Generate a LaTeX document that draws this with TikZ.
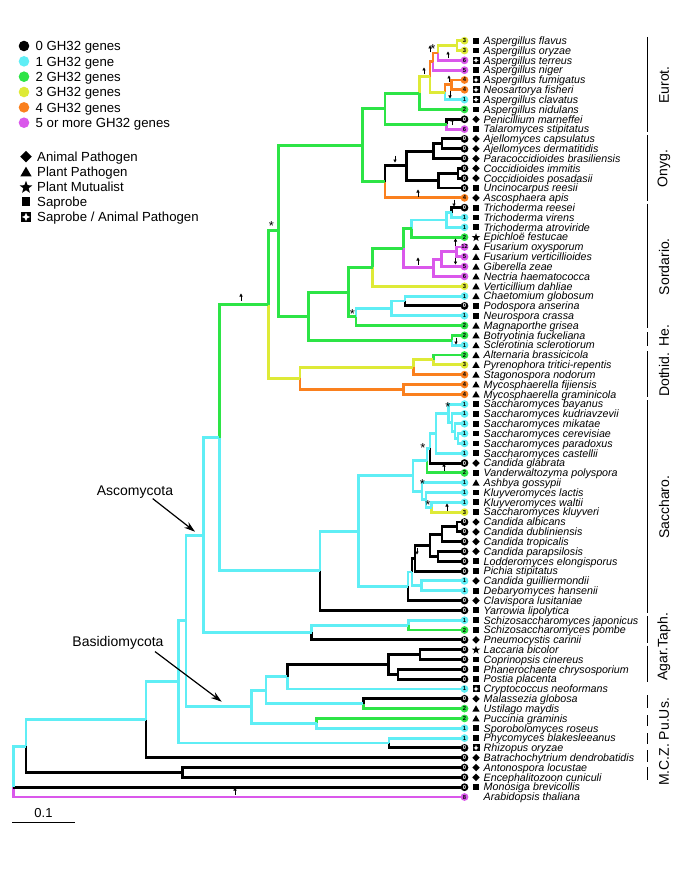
\documentclass[tikz,border=0pt]{standalone}
\usepackage{fontspec}
\setmainfont{Liberation Sans}
\usetikzlibrary{arrows.meta,shapes.geometric}

\definecolor{gh0}{RGB}{0,0,0}
\definecolor{gh1}{RGB}{95,238,245}
\definecolor{gh2}{RGB}{45,228,70}
\definecolor{gh3}{RGB}{222,234,55}
\definecolor{gh4}{RGB}{250,128,30}
\definecolor{gh5}{RGB}{218,88,235}
\definecolor{ghtxt0}{RGB}{255,255,255}
\colorlet{ghtxt1}{black}
\colorlet{ghtxt2}{black}
\colorlet{ghtxt3}{black}
\colorlet{ghtxt4}{black}
\colorlet{ghtxt5}{black}

\tikzset{
	sym/.style={fill=black,inner sep=0pt},
	pics/symsq/.style={code={\node[sym,rectangle,minimum size=5.8pt]{};}},
	pics/symdia/.style={code={\node[sym,diamond,minimum size=7.6pt]{};}},
	pics/symtri/.style={code={\node[sym,regular polygon,regular polygon sides=3,minimum size=8.4pt,yshift=-0.9pt]{};}},
	pics/symstar/.style={code={\node[sym,star,star points=5,star point ratio=2.4,minimum size=8.6pt,yshift=-0.4pt]{};}},
	pics/symsa/.style={code={\node[sym,rectangle,minimum size=7pt]{};
			\node[star,star points=4,star point ratio=2.4,fill=white,inner sep=0pt,minimum size=5.4pt]{};}},
	pics/symnone/.style={code={}}
}

\begin{document}
\begin{tikzpicture}[
			x=1pt,y=-1pt,
			br/.style={line width=2.9pt},
			cnt/.style={
				circle,
				inner sep=0pt,
				minimum size=7.8pt,
				fill=gh#1,
				text=ghtxt#1,
				font=\fontsize{5.8}{5.8}\selectfont\bfseries
			},
			taxon/.style={anchor=base west,inner sep=0pt,yshift=-3.8pt,font=\fontsize{10.7}{11}\selectfont\itshape},
			legtext/.style={anchor=base west,inner sep=0pt,yshift=-4.7pt,font=\fontsize{13.2}{14}\selectfont},
			grp/.style={rotate=90,inner sep=0pt,font=\fontsize{14}{15}\selectfont},
			grpline/.style={line width=1.2pt},
			clade/.style={anchor=base,inner sep=0pt,font=\fontsize{14}{15}\selectfont},
			ptr/.style={-{Stealth[length=11pt,width=7pt]},line width=1.2pt},
			gain/.style={-{Triangle[length=3pt,width=3.2pt]},line width=0.6pt},
			ast/.style={inner sep=0pt,yshift=-3pt,font=\fontsize{13}{13}\selectfont}
			]
			
			\useasboundingbox (0,0) rectangle (685,872);
			
			% legend
			\foreach \k/\t [count=\i] in {0/0 GH32 genes,1/1 GH32 gene,2/2 GH32 genes,
				3/3 GH32 genes,4/4 GH32 genes,5/5 or more GH32 genes}{
				\fill[gh\k] (24,{46+15.34*(\i-1)}) circle[radius=5.3pt];
				\node[legtext] at (35.5,{46+15.34*(\i-1)}) {\t};
			}
			\foreach \sy/\t [count=\i] in {dia/Animal Pathogen,tri/Plant Pathogen,
				star/Plant Mutualist,sq/Saprobe,sa/{Saprobe / Animal Pathogen}}{
				\pic[transform shape,scale=1.55] at (26,{156.7+15.07*(\i-1)}) {sym\sy};
				\node[legtext] at (37,{156.7+15.07*(\i-1)}) {\t};
			}
			
			\begin{scope}[y=-9.822pt,yshift=-30.878pt]
				
				% Eurotiomycetes
				\coordinate (fo) at (457,1.5);
				\coordinate (fot) at (438,2.25);
				\coordinate (ftn) at (433,3.125);
				\coordinate (ff) at (451.7,5.5);
				\coordinate (fcl) at (445,6.25);
				\coordinate (asp2) at (430,4.6875);
				\coordinate (asp) at (419.3,6.344);
				\coordinate (ptal) at (446.7,9.5);
				\coordinate (eur) at (385,7.922);
				\coordinate (aj) at (442,11.5);
				\coordinate (ajp) at (433.3,12.25);
				\coordinate (cc) at (458,14.5);
				\coordinate (ccu) at (438.3,15.25);
				\coordinate (ony) at (406.7,13.75);
				\coordinate (onyg) at (385,15.375);
				\coordinate (eo) at (362.7,11.648);
				
				% Sordariomycetes, Leotiomycetes, Dothideomycetes
				\coordinate (rv) at (451.5,18.5);
				\coordinate (rva) at (446.5,19.25);
				\coordinate (te) at (411.7,20.125);
				\coordinate (ov) at (456.7,22.5);
				\coordinate (ovz) at (441.7,23.25);
				\coordinate (fus) at (433.3,24.125);
				\coordinate (hyp) at (403.3,22.125);
				\coordinate (hv) at (372.7,24.063);
				\coordinate (chp) at (405,27.5);
				\coordinate (sord) at (391.7,28.25);
				\coordinate (sm) at (356,29.125);
				\coordinate (hs) at (348.3,26.594);
				\coordinate (leo) at (452,31.5);
				\coordinate (sl) at (308.3,29.047);
				\coordinate (es) at (278.3,20.348);
				\coordinate (ap) at (433.3,33.5);
				\coordinate (pleo) at (413.3,34.25);
				\coordinate (myc) at (403.3,36.5);
				\coordinate (doth) at (300,35.375);
				\coordinate (pez) at (268.3,27.861);
				
				% Saccharomycotina, Taphrinomycotina
				\coordinate (cp) at (458,41.5);
				\coordinate (mcp) at (455,40.75);
				\coordinate (kmcp) at (452,39.875);
				\coordinate (bk) at (448.5,38.938);
				\coordinate (sc) at (436,40.969);
				\coordinate (gl) at (430,42.484);
				\coordinate (vp) at (427,43.742);
				\coordinate (wk) at (431.7,48.5);
				\coordinate (lwk) at (426,47.75);
				\coordinate (alwk) at (422,46.875);
				\coordinate (sacc) at (413,45.309);
				\coordinate (ad) at (457,50.5);
				\coordinate (adt) at (442,51.25);
				\coordinate (pl) at (438,53.5);
				\coordinate (cand) at (430,52.375);
				\coordinate (candp) at (415,53.688);
				\coordinate (gd) at (421.7,56.5);
				\coordinate (cpg) at (412,55.094);
				\coordinate (ctg) at (408,56.547);
				\coordinate (sac2) at (358.3,50.928);
				\coordinate (sy) at (320,54.964);
				\coordinate (ascu) at (219.3,41.413);
				\coordinate (schizo) at (408.3,60.5);
				\coordinate (taph) at (311.7,61.25);
				\coordinate (asco) at (203.3,51.331);
				
				% Basidiomycota and basal lineages
				\coordinate (lc) at (420,63.5);
				\coordinate (pp) at (398,65.5);
				\coordinate (agpo) at (388.3,64.5);
				\coordinate (agar) at (287.3,65.75);
				\coordinate (mu) at (363.3,68.5);
				\coordinate (agmu) at (266,67.125);
				\coordinate (ps) at (316.7,70.5);
				\coordinate (basid) at (251.7,68.813);
				\coordinate (dik) at (186,60.072);
				\coordinate (muc) at (389,72.5);
				\coordinate (dm) at (178.3,66.286);
				\coordinate (dmb) at (146,70.143);
				\coordinate (micro) at (182.7,75.5);
				\coordinate (fungi) at (26,72.822);
				\coordinate (root) at (13.3,77);
				
				\foreach \rw/\nm/\ct/\sy in {
					1/Aspergillus flavus/3/sq, 2/Aspergillus oryzae/3/sq,
					3/Aspergillus terreus/6/sa, 4/Aspergillus niger/5/sq,
					5/Aspergillus fumigatus/4/sa, 6/Neosartorya fisheri/4/sa,
					7/Aspergillus clavatus/1/sa, 8/Aspergillus nidulans/2/sq,
					9/Penicillium marneffei/0/dia, 10/Talaromyces stipitatus/6/sq,
					11/Ajellomyces capsulatus/0/dia, 12/Ajellomyces dermatitidis/0/dia,
					13/Paracoccidioides brasiliensis/0/dia, 14/Coccidioides immitis/0/dia,
					15/Coccidioides posadasii/0/dia, 16/Uncinocarpus reesii/0/sq,
					17/Ascosphaera apis/4/dia, 18/Trichoderma reesei/0/sq,
					19/Trichoderma virens/1/sq, 20/Trichoderma atroviride/1/sq,
					21/Epichloë festucae/2/star, 22/Fusarium oxysporum/12/tri,
					23/Fusarium verticillioides/5/tri, 24/Giberella zeae/5/tri,
					25/Nectria haematococca/6/tri, 26/Verticillium dahliae/3/tri,
					27/Chaetomium globosum/1/tri, 28/Podospora anserina/0/sq,
					29/Neurospora crassa/1/sq, 30/Magnaporthe grisea/2/tri,
					31/Botryotinia fuckeliana/2/tri, 32/Sclerotinia sclerotiorum/1/tri,
					33/Alternaria brassicicola/2/tri, 34/Pyrenophora tritici-repentis/3/tri,
					35/Stagonospora nodorum/4/tri, 36/Mycosphaerella fijiensis/4/tri,
					37/Mycosphaerella graminicola/4/tri, 38/Saccharomyces bayanus/1/sq,
					39/Saccharomyces kudriavzevii/1/sq, 40/Saccharomyces mikatae/1/sq,
					41/Saccharomyces cerevisiae/1/sq, 42/Saccharomyces paradoxus/1/sq,
					43/Saccharomyces castellii/1/sq, 44/Candida glabrata/0/dia,
					45/Vanderwaltozyma polyspora/2/sq, 46/Ashbya gossypii/1/tri,
					47/Kluyveromyces lactis/1/sq, 48/Kluyveromyces waltii/1/sq,
					49/Saccharomyces kluyveri/3/sq, 50/Candida albicans/0/dia,
					51/Candida dubliniensis/0/dia, 52/Candida tropicalis/0/dia,
					53/Candida parapsilosis/0/dia, 54/Lodderomyces elongisporus/0/sq,
					55/Pichia stipitatus/0/sq, 56/Candida guilliermondii/1/dia,
					57/Debaryomyces hansenii/1/sq, 58/Clavispora lusitaniae/0/dia,
					59/Yarrowia lipolytica/0/sq, 60/Schizosaccharomyces japonicus/1/sq,
					61/Schizosaccharomyces pombe/2/sq, 62/Pneumocystis carinii/0/dia,
					63/Laccaria bicolor/0/star, 64/Coprinopsis cinereus/0/sq,
					65/Phanerochaete chrysosporium/0/sq, 66/Postia placenta/0/sq,
					67/Cryptococcus neoformans/1/sa, 68/Malassezia globosa/0/dia,
					69/Ustilago maydis/2/tri, 70/Puccinia graminis/2/tri,
					71/Sporobolomyces roseus/1/sq, 72/Phycomyces blakesleeanus/1/sq,
					73/Rhizopus oryzae/0/sa, 74/Batrachochytrium dendrobatidis/0/dia,
					75/Antonospora locustae/0/dia, 76/Encephalitozoon cuniculi/0/dia,
					77/Monosiga brevicollis/0/sq, 78/Arabidopsis thaliana/8/none}{
					\coordinate (l\rw) at (461,\rw);
					\node[taxon] at (483.5,\rw) {\nm};
					\pic at (476,\rw) {sym\sy};
				}
				
				\foreach \p/\q/\k in {
					fo/l1/3, fo/l2/3, fot/fo/3, fot/l3/5, ftn/fot/4, ftn/l4/5,
					ff/l5/4, ff/l6/4, fcl/ff/4, fcl/l7/1, asp2/ftn/4, asp2/fcl/3,
					asp/asp2/3, asp/l8/2, ptal/l9/0, ptal/l10/5, eur/asp/2, eur/ptal/2,
					aj/l11/0, aj/l12/0, ajp/aj/0, ajp/l13/0, cc/l14/0, cc/l15/0,
					ccu/cc/0, ccu/l16/0, ony/ajp/0, ony/ccu/0, onyg/ony/0, onyg/l17/4,
					eo/eur/2, eo/onyg/2,
					rv/l18/0, rv/l19/1, rva/rv/1, rva/l20/1, te/rva/1, te/l21/2,
					ov/l22/5, ov/l23/5, ovz/ov/5, ovz/l24/5, fus/ovz/5, fus/l25/5,
					hyp/te/2, hyp/fus/5, hv/hyp/2, hv/l26/3,
					chp/l27/1, chp/l28/0, sord/chp/1, sord/l29/1, sm/sord/1, sm/l30/2,
					hs/hv/2, hs/sm/2, leo/l31/2, leo/l32/1, sl/hs/2, sl/leo/2,
					es/eo/2, es/sl/2,
					ap/l33/2, ap/l34/3, pleo/ap/3, pleo/l35/4, myc/l36/4, myc/l37/4,
					doth/pleo/3, doth/myc/4, pez/es/2, pez/doth/3,
					cp/l41/1, cp/l42/1, mcp/l40/1, mcp/cp/1, kmcp/l39/1, kmcp/mcp/1,
					bk/l38/1, bk/kmcp/1, sc/bk/1, sc/l43/1, gl/sc/1, gl/l44/0,
					vp/gl/1, vp/l45/2, wk/l48/1, wk/l49/3, lwk/l47/1, lwk/wk/1,
					alwk/l46/1, alwk/lwk/1, sacc/vp/1, sacc/alwk/1,
					ad/l50/0, ad/l51/0, adt/ad/0, adt/l52/0, pl/l53/0, pl/l54/0,
					cand/adt/0, cand/pl/0, candp/cand/0, candp/l55/0,
					gd/l56/1, gd/l57/1, cpg/candp/0, cpg/gd/1, ctg/cpg/1, ctg/l58/0,
					sac2/sacc/1, sac2/ctg/1, sy/sac2/1, sy/l59/0,
					ascu/pez/2, ascu/sy/1,
					schizo/l60/1, schizo/l61/2, taph/schizo/1, taph/l62/0,
					asco/ascu/1, asco/taph/1,
					lc/l63/0, lc/l64/0, pp/l65/0, pp/l66/0, agpo/lc/0, agpo/pp/0,
					agar/agpo/0, agar/l67/1, mu/l68/0, mu/l69/2, agmu/agar/1, agmu/mu/1,
					ps/l70/2, ps/l71/1, basid/agmu/1, basid/ps/1,
					dik/asco/1, dik/basid/1, muc/l72/1, muc/l73/0, dm/dik/1, dm/muc/1,
					dmb/dm/1, dmb/l74/0, micro/l75/0, micro/l76/0,
					fungi/dmb/1, fungi/micro/0,
					root/l78/5, root/l77/0, root/fungi/1}{
					\draw[br,draw=gh\k] (\p) |- (\q);
				}
				
				\foreach \rw/\ct in {1/3,2/3,3/6,4/5,5/4,6/4,7/1,8/2,9/0,10/6,11/0,12/0,13/0,
					14/0,15/0,16/0,17/4,18/0,19/1,20/1,21/2,22/12,23/5,24/5,25/6,26/3,27/1,
					28/0,29/1,30/2,31/2,32/1,33/2,34/3,35/4,36/4,37/4,38/1,39/1,40/1,41/1,
					42/1,43/1,44/0,45/2,46/1,47/1,48/1,49/3,50/0,51/0,52/0,53/0,54/0,55/0,
					56/1,57/1,58/0,59/0,60/1,61/2,62/0,63/0,64/0,65/0,66/0,67/1,68/0,69/2,
					70/2,71/1,72/1,73/0,74/0,75/0,76/0,77/0,78/8}{
					\pgfmathtruncatemacro\k{min(\ct,5)}
					\node[cnt=\k] (c\rw) at (464.5,\rw) {\ct};
				}
				
				% group brackets
				\foreach \a/\b/\t in {1/10/Eurot.,11/17/Onyg.,18/30/Sordario.,33/37/Dothid.,
					38/59/Saccharo.,60/62/Taph.,63/66/Agar.}{
					\draw[grpline] (647.7,\a-0.4) -- (647.7,\b+0.3);
					\node[grp] at (664,{(\a+\b)/2}) {\t};
				}
				\draw[grpline] (647.7,30.7) -- (647.7,32.05);
				\node[grp] at (664,31.05) {He.};
			\end{scope}
			
			\foreach \ya/\yb in {695/708,715/726,733/744,750/762,767/780}{
				\draw[grpline] (647.7,\ya) -- (647.7,\yb);
			}
			\node[grp] at (664,742) {M.C.Z. Pu.Us.};
			
			% gains and losses
			\foreach \x/\y in {424/71,430/49,448/55,449/79,452/122,418/193,455.5/242,
				418/261,241/297,444/467,447/507,235/791}{
				\draw[gain] (\x,\y+3.5) -- (\x,\y-3.5);
			}
			\foreach \x/\y in {450/95,395/159,454/203,455.5/261,456/341,417/551}{
				\draw[gain] (\x,\y-3.5) -- (\x,\y+3.5);
			}
			\foreach \x/\y in {433/46,271.5/223,352.5/311,448/404,423/445,422.5/481,428/502}{
				\node[ast] at (\x,\y) {*};
			}
			
			\node[clade] (ascolab) at (135,495.5) {Ascomycota};
			\node[clade] (basidlab) at (118,646.5) {Basidiomycota};
			\coordinate (ascotip) at (195,531.7);
			\coordinate (basidtip) at (221.7,701.7);
			\draw[ptr] ([xshift=17.7pt]ascolab.south) -- (ascotip);
			\draw[ptr] ([xshift=37pt,yshift=-2pt]basidlab.south) -- (basidtip);
			
			\draw[line width=1.1pt] (12,822.7) -- (75,822.7);
			\node[inner sep=0pt,font=\fontsize{13}{14}\selectfont] (scale) at (43.5,813) {0.1};
			
		\end{tikzpicture}
\end{document}
